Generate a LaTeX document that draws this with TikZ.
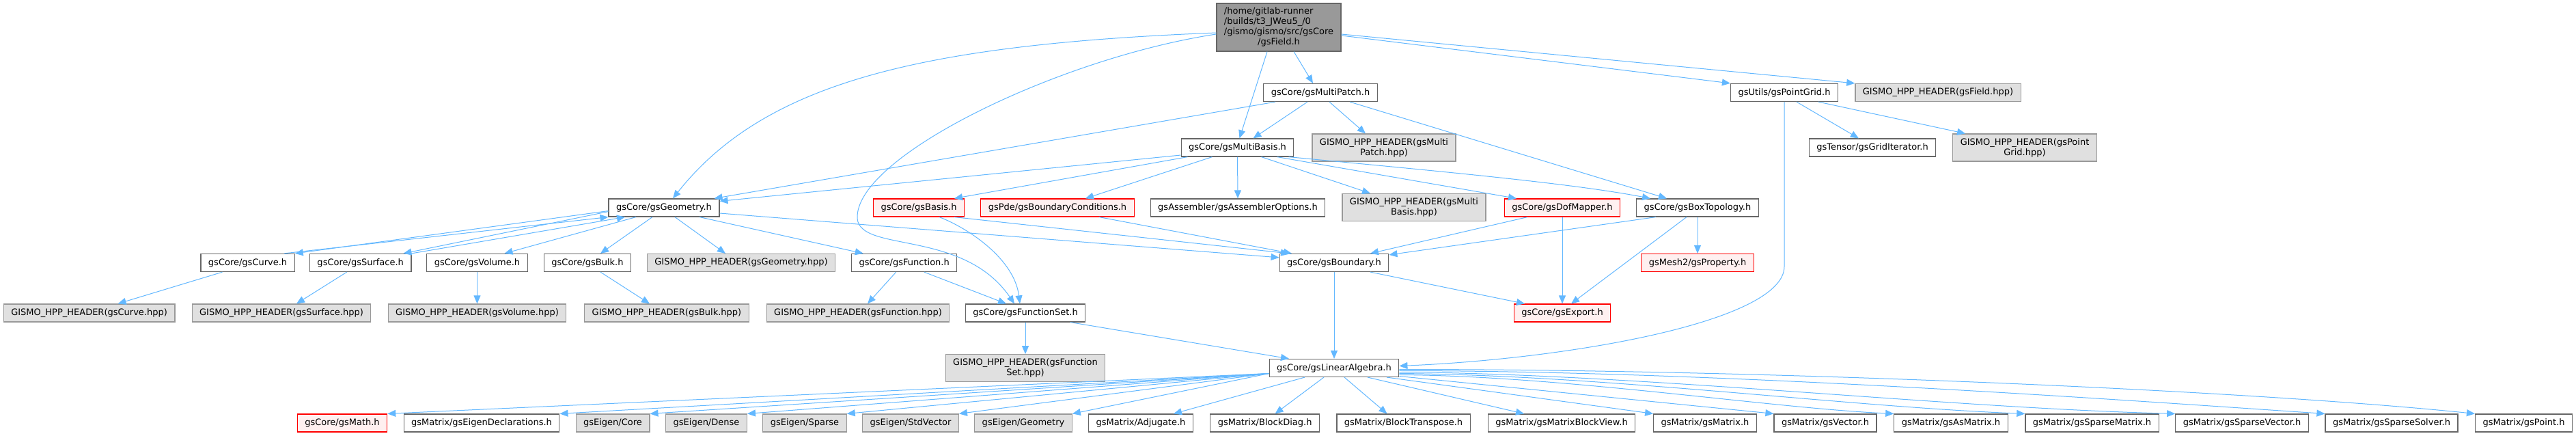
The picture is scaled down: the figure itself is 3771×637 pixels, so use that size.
\documentclass[tikz,border=0pt]{standalone}
\usepackage{fontspec}
\setmainfont{DejaVu Sans}
\usetikzlibrary{arrows.meta}

\definecolor{edgeblue}{HTML}{63B8FF}
\definecolor{boxline}{HTML}{666666}
\definecolor{hppline}{HTML}{999999}
\definecolor{hppfill}{HTML}{E0E0E0}
\definecolor{redfill}{HTML}{FFF0F0}
\definecolor{rootfill}{HTML}{999999}

\begin{document}
\begin{tikzpicture}[x=1pt,y=1pt,>={Triangle[length=12pt,width=10pt]},
  filebox/.style={draw=boxline,fill=white,line width=1.2pt,inner xsep=11pt,inner ysep=0pt,
    minimum height=26pt,font=\fontsize{13pt}{15pt}\selectfont},
  hppbox/.style={filebox,draw=hppline,fill=hppfill},
  hpptwo/.style={hppbox,align=center,minimum height=40pt},
  redbox/.style={filebox,draw=red,fill=redfill},
  dep/.style={->,draw=edgeblue,line width=1pt}]

  % Page
  \path[fill=white,use as bounding box] (0,0) rectangle (3771,637);

  % The file itself
  \node[filebox,fill=rootfill,minimum height=70pt] (root) at (1872,597)
    {\begin{tabular}{@{}l@{}}/home/gitlab-runner\\/builds/t3\_JWeu5\_/0\\/gismo/gismo/src/gsCore\\\multicolumn{1}{@{}c@{}}{/gsField.h}\end{tabular}};

  % Second and third rows
  \node[filebox] (mpatch) at (1933,501.5) {gsCore/gsMultiPatch.h};
  \node[filebox] (pgrid) at (2612,501.5) {gsUtils/gsPointGrid.h};
  \node[hppbox] (fieldhpp) at (2837,501.5) {GISMO\_HPP\_HEADER(gsField.hpp)};
  \node[filebox] (mbasis) at (1811.5,421) {gsCore/gsMultiBasis.h};
  \node[hpptwo] (mphpp) at (2026,421) {GISMO\_HPP\_HEADER(gsMulti\\Patch.hpp)};
  \node[filebox] (griditer) at (2741,421) {gsTensor/gsGridIterator.h};
  \node[hpptwo] (pghpp) at (2964,421) {GISMO\_HPP\_HEADER(gsPoint\\Grid.hpp)};

  % Fourth row
  \node[filebox] (geom) at (972,333) {gsCore/gsGeometry.h};
  \node[redbox] (basis) at (1345,333) {gsCore/gsBasis.h};
  \node[redbox] (bcond) at (1548,333) {gsPde/gsBoundaryConditions.h};
  \node[filebox] (asmopt) at (1812,333) {gsAssembler/gsAssemblerOptions.h};
  \node[hpptwo] (mbhpp) at (2070,333.5) {GISMO\_HPP\_HEADER(gsMulti\\Basis.hpp)};
  \node[redbox] (dofmap) at (2287,333) {gsCore/gsDofMapper.h};
  \node[filebox] (boxtopo) at (2485,333) {gsCore/gsBoxTopology.h};

  % Fifth row
  \node[filebox] (gscurve) at (362.6,252.5) {gsCore/gsCurve.h};
  \node[filebox] (gssurf) at (527.7,252.5) {gsCore/gsSurface.h};
  \node[filebox] (gsvol) at (698.5,252.5) {gsCore/gsVolume.h};
  \node[filebox] (gsbulk) at (860,252.5) {gsCore/gsBulk.h};
  \node[hppbox] (geohpp) at (1085,252.5) {GISMO\_HPP\_HEADER(gsGeometry.hpp)};
  \node[filebox] (gsfunc) at (1323.7,252.5) {gsCore/gsFunction.h};
  \node[filebox] (gsbound) at (1953,252.5) {gsCore/gsBoundary.h};
  \node[redbox] (gsprop) at (2485,252.5) {gsMesh2/gsProperty.h};

  % Sixth row
  \node[hppbox] (curvehpp) at (130.6,179) {GISMO\_HPP\_HEADER(gsCurve.hpp)};
  \node[hppbox] (surfhpp) at (412,179) {GISMO\_HPP\_HEADER(gsSurface.hpp)};
  \node[hppbox] (volhpp) at (698.5,179) {GISMO\_HPP\_HEADER(gsVolume.hpp)};
  \node[hppbox] (bulkhpp) at (976,179) {GISMO\_HPP\_HEADER(gsBulk.hpp)};
  \node[hppbox] (funchpp) at (1256,179) {GISMO\_HPP\_HEADER(gsFunction.hpp)};
  \node[filebox] (fset) at (1501,179) {gsCore/gsFunctionSet.h};
  \node[redbox] (gsexport) at (2287,179) {gsCore/gsExport.h};

  % Seventh row
  \node[hpptwo] (fsethpp) at (1501,98.3) {GISMO\_HPP\_HEADER(gsFunction\\Set.hpp)};
  \node[filebox] (linalg) at (1953,98.5) {gsCore/gsLinearAlgebra.h};

  % Bottom row
  \node[redbox] (gsmath) at (501,18) {gsCore/gsMath.h};
  \node[filebox] (eigdecl) at (705,18) {gsMatrix/gsEigenDeclarations.h};
  \node[hppbox] (eigcore) at (897,18) {gsEigen/Core};
  \node[hppbox] (eigdense) at (1034,18) {gsEigen/Dense};
  \node[hppbox] (eigsparse) at (1178,18) {gsEigen/Sparse};
  \node[hppbox] (eigstdvec) at (1333,18) {gsEigen/StdVector};
  \node[hppbox] (eiggeom) at (1498,18) {gsEigen/Geometry};
  \node[filebox] (adjug) at (1670,18) {gsMatrix/Adjugate.h};
  \node[filebox] (bdiag) at (1851.6,18) {gsMatrix/BlockDiag.h};
  \node[filebox] (btrans) at (2054.5,18) {gsMatrix/BlockTranspose.h};
  \node[filebox] (mblock) at (2286,18) {gsMatrix/gsMatrixBlockView.h};
  \node[filebox] (gsmatrix) at (2496,18) {gsMatrix/gsMatrix.h};
  \node[filebox] (gsvector) at (2672,18) {gsMatrix/gsVector.h};
  \node[filebox] (asmatrix) at (2856,18) {gsMatrix/gsAsMatrix.h};
  \node[filebox] (spmatrix) at (3062.5,18) {gsMatrix/gsSparseMatrix.h};
  \node[filebox] (spvector) at (3282,18) {gsMatrix/gsSparseVector.h};
  \node[filebox] (spsolver) at (3501,18) {gsMatrix/gsSparseSolver.h};
  \node[filebox] (gspoint) at (3694.5,18) {gsMatrix/gsPoint.h};

  % Includes of the file itself
  \draw[dep] ([yshift=-8pt]root.west) .. controls (1350,572) and (1120,517) .. ([xshift=13pt]geom.north);
  \draw[dep] ([yshift=-10pt]root.west) .. controls (1550,552) and (1250,407) .. (1255,317)
    .. controls (1260,267) and (1410,302) .. ([xshift=-16pt]fset.north);
  \draw[dep] ([xshift=-17pt]root.south) -- ([xshift=3pt]mbasis.north);
  \draw[dep] ([xshift=22pt]root.south) -- ([xshift=-11pt]mpatch.north);
  \draw[dep] ([yshift=-12pt]root.east) -- (pgrid.north west);
  \draw[dep] ([yshift=-10pt]root.east) -- (fieldhpp.north west);

  % gsMultiPatch.h
  \draw[dep] ([xshift=-19pt]mpatch.south) -- ([xshift=23pt]mbasis.north);
  \draw[dep] ([xshift=13pt]mpatch.south) -- ([xshift=-27pt]mphpp.north);
  \draw[dep] ([xshift=43pt]mpatch.south) -- ([xshift=-45pt]boxtopo.north);
  \draw[dep] ([xshift=-66pt]mpatch.south) -- ([xshift=-8pt]geom.north east);

  % gsMultiBasis.h
  \draw[dep] ([yshift=-11pt]mbasis.west) -- ([yshift=-4pt]geom.north east);
  \draw[dep] ([xshift=-73pt]mbasis.south) -- ([xshift=52pt]basis.north);
  \draw[dep] ([xshift=-37pt]mbasis.south) -- ([xshift=41pt]bcond.north);
  \draw[dep] (mbasis.south) -- (asmopt.north);
  \draw[dep] ([xshift=35pt]mbasis.south) -- ([xshift=-64pt]mbhpp.north);
  \draw[dep] ([xshift=58pt]mbasis.south) -- ([xshift=-67pt]dofmap.north);
  \draw[dep] ([xshift=75pt]mbasis.south) .. controls (2100,387) and (2300,369) .. ([xshift=-69pt]boxtopo.north);

  % gsGeometry.h and the files that include it back
  \draw[dep] ([yshift=9pt]geom.south west) -- (gscurve.north east);
  \draw[dep] ([xshift=-16pt]gscurve.north east) -- (geom.south west);
  \draw[dep] ([yshift=8pt]geom.south west) -- ([xshift=-12pt]gssurf.north east);
  \draw[dep] (gssurf.north east) -- ([xshift=-57pt]geom.south);
  \draw[dep] ([xshift=-41pt]geom.south) -- ([xshift=40pt]gsvol.north);
  \draw[dep] ([xshift=-17pt]geom.south) -- ([xshift=19pt]gsbulk.north);
  \draw[dep] ([xshift=16pt]geom.south) -- ([xshift=-23pt]geohpp.north);
  \draw[dep] ([xshift=52pt]geom.south) -- ([xshift=-60pt]gsfunc.north);
  \draw[dep] ([yshift=-8pt]geom.east) -- ([yshift=-6pt]gsbound.north west);

  % Fourth row to fifth row
  \draw[dep] ([xshift=30pt]basis.south) .. controls (1420,302) and (1485,257) .. ([xshift=-8pt]fset.north);
  \draw[dep] ([xshift=52pt]basis.south) -- ([xshift=-66pt]gsbound.north);
  \draw[dep] ([xshift=61pt]bcond.south) -- ([xshift=-62pt]gsbound.north);
  \draw[dep] ([xshift=-51pt]dofmap.south) -- ([xshift=53pt]gsbound.north);
  \draw[dep] (dofmap.south) -- (gsexport.north);
  \draw[dep] ([xshift=-61pt]boxtopo.south) -- ([yshift=-2pt]gsbound.north east);
  \draw[dep] ([xshift=-16pt]boxtopo.south) -- ([xshift=13pt]gsexport.north);
  \draw[dep] (boxtopo.south) -- (gsprop.north);

  % gsPointGrid.h
  \draw[dep] ([xshift=18pt]pgrid.south) -- ([xshift=-20pt]griditer.north);
  \draw[dep] ([xshift=50pt]pgrid.south) -- ([xshift=-87pt]pghpp.north);
  \draw[dep] (pgrid.south) -- (pgrid.south |- 0,247) .. controls (2612,167) and (2300,112) .. ([yshift=3pt]linalg.east);

  % Fifth row downwards
  \draw[dep] ([xshift=-37pt]gscurve.south) -- ([xshift=42pt]curvehpp.north);
  \draw[dep] ([xshift=-20pt]gssurf.south) -- ([xshift=22pt]surfhpp.north);
  \draw[dep] (gsvol.south) -- (volhpp.north);
  \draw[dep] ([xshift=19pt]gsbulk.south) -- ([xshift=-25pt]bulkhpp.north);
  \draw[dep] ([xshift=-12pt]gsfunc.south) -- ([xshift=14pt]funchpp.north);
  \draw[dep] ([xshift=29pt]gsfunc.south) -- ([xshift=-28pt]fset.north);
  \draw[dep] ([xshift=53pt]gsbound.south) -- ([xshift=-55pt]gsexport.north);
  \draw[dep] (gsbound.south) -- (linalg.north);
  \draw[dep] (fset.south) -- (fsethpp.north);
  \draw[dep] ([xshift=66pt]fset.south) -- ([xshift=-66pt]linalg.north);

  % gsLinearAlgebra.h
  \draw[dep] ([yshift=-8pt]linalg.west) -- (gsmath.north east);
  \draw[dep] ([yshift=-8pt]linalg.west) -- (eigdecl.north east);
  \draw[dep] ([yshift=-8pt]linalg.west) -- (eigcore.north east);
  \draw[dep] ([yshift=-8pt]linalg.west) -- (eigdense.north east);
  \draw[dep] ([yshift=-8pt]linalg.west) -- (eigsparse.north east);
  \draw[dep] ([yshift=-8pt]linalg.west) -- (eigstdvec.north east);
  \draw[dep] ([yshift=-8pt]linalg.west) -- (eiggeom.north east);
  \draw[dep] ([xshift=-43pt]linalg.south) -- ([xshift=48pt]adjug.north);
  \draw[dep] ([xshift=-15pt]linalg.south) -- ([xshift=15pt]bdiag.north);
  \draw[dep] ([xshift=15pt]linalg.south) -- ([xshift=-24pt]btrans.north);
  \draw[dep] ([xshift=49pt]linalg.south) -- ([xshift=-55pt]mblock.north);
  \draw[dep] ([xshift=77pt]linalg.south) -- (gsmatrix.north west);
  \draw[dep] ([yshift=-12pt]linalg.east) -- (gsvector.north west);
  \draw[dep] ([yshift=-10pt]linalg.east) .. controls (2290,87) and (2590,40) .. (asmatrix.north west);
  \draw[dep] ([yshift=-8pt]linalg.east) .. controls (2350,88) and (2700,42) .. (spmatrix.north west);
  \draw[dep] ([yshift=-6pt]linalg.east) .. controls (2400,90) and (2850,40) .. (spvector.north west);
  \draw[dep] ([yshift=-4pt]linalg.east) .. controls (2520,94.5) and (3130,50) .. (spsolver.north west);
  \draw[dep] ([yshift=-2pt]linalg.east) .. controls (2600,96.5) and (3300,65) .. (gspoint.north west);
\end{tikzpicture}
\end{document}
